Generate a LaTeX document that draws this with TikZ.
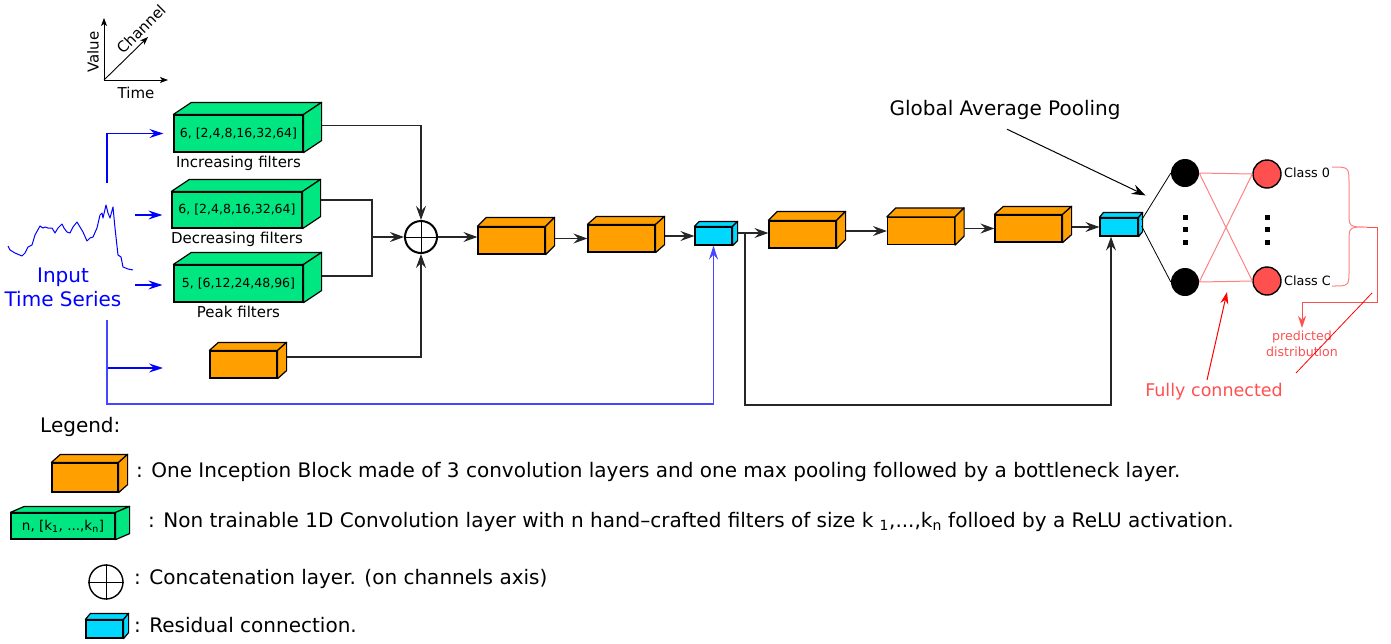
\documentclass[tikz,border=0pt]{standalone}
\usepackage{fontspec}
\setmainfont{DejaVu Sans}
\usetikzlibrary{arrows.meta,positioning}
\definecolor{filtgreen}{RGB}{0,230,128}
\definecolor{incorange}{RGB}{255,160,0}
\definecolor{rescyan}{RGB}{0,216,255}
\definecolor{classred}{RGB}{255,80,80}
\definecolor{fcpink}{RGB}{255,130,130}
\definecolor{resblue}{RGB}{70,70,255}
\begin{document}
\begin{tikzpicture}[x=1pt,y=-1pt,
  face/.style={draw=black, line width=1.2pt, inner sep=0pt},
  filtbox/.style={face, fill=filtgreen, minimum width=129pt, minimum height=37pt, font=\fontsize{12.5}{14}\selectfont},
  incbox/.style={face, fill=incorange, minimum width=67pt, minimum height=27pt},
  resbox/.style={face, fill=rescyan, minimum width=37pt, minimum height=18pt},
  txtL/.style={font=\fontsize{20}{24}\selectfont},
  txtM/.style={font=\fontsize{15}{18}\selectfont},
  txtS/.style={font=\fontsize{12.8}{15}\selectfont},
  conn/.style={draw=black!85, line width=1.1pt},
  arr/.style={-{Stealth[length=14pt, width=10pt, inset=5pt]}},
  barr/.style={draw=blue, line width=1.1pt, -{Stealth[length=14pt, width=9pt, inset=5pt]}},
  axis/.style={line width=0.9pt, -{Stealth[length=8pt, width=6pt, inset=2pt]}},
  neuron/.style={circle, fill=black, minimum size=28pt, inner sep=0pt},
  outneuron/.style={circle, draw=black, line width=1.4pt, fill=classred, minimum size=28pt, inner sep=0pt},
  catnode/.style={circle, draw=black, line width=2pt, minimum size=32pt, inner sep=0pt}]
\useasboundingbox (0,0) rectangle (1391,643);

% axes
\coordinate (ax) at (104,80);
\draw[axis] (ax) -- (104,18);
\draw[axis] (ax) -- (168,80);
\draw[axis] (ax) -- (148,37);
\node[txtM, rotate=90, inner sep=0pt] (val) at (93,52) {Value};
\node[txtM, inner sep=0pt] (tim) at (136,93) {Time};
\node[txtM, rotate=45, inner sep=0pt] (chan) at (141,29) {Channel};

% input series
\draw[blue, line width=1pt, line join=round] plot coordinates {(8,246) (10,250) (15,253) (22,256) (25,253) (28,247) (32,245) (35,235) (40,226) (43,228) (45,227) (48,228) (52,228) (55,233) (58,228) (62,224) (64,228) (67,232) (70,233) (73,227) (77,222) (80,227) (83,232) (87,241) (90,238) (93,237) (97,228) (100,215) (102,213) (103,218) (106,205) (108,213) (110,218) (113,207) (115,228) (118,255) (121,257) (123,267) (128,269) (133,270)};
\node[txtL, text=blue, align=center] (input) at (63,287) {Input\\Time Series};

% filter blocks
\node[filtbox] (g1) at (238.5,133.5) {6, [2,4,8,16,32,64]};
\node[filtbox, minimum width=130pt, minimum height=36pt] (g2) at (237,210) {6, [2,4,8,16,32,64]};
\node[filtbox] (g3) at (238.5,283.5) {5, [6,12,24,48,96]};
\node[txtM, below=0pt of g1, inner sep=3pt] (lg1) {Increasing filters};
\node[txtM, below=0pt of g2, inner sep=3pt] (lg2) {Decreasing filters};
\node[txtM, below=0pt of g3, inner sep=3pt] (lg3) {Peak filters};

% inception and residual blocks
\node[incbox] (o0) at (243.5,364.5) {};
\node[incbox] (oA) at (511.5,240.5) {};
\node[incbox] (oB) at (621.5,238.5) {};
\node[resbox] (cy1) at (713.5,236) {};
\node[incbox] (oC) at (802.5,234.5) {};
\node[incbox] (oD) at (921,231) {};
\node[incbox] (oE) at (1028.5,228.5) {};
\node[resbox, minimum width=38pt] (cy2) at (1119,227) {};

% legend blocks
\node[incbox, minimum width=66pt, minimum height=29pt] (lo) at (85,477.5) {};
\node[face, fill=filtgreen, minimum width=104pt, minimum height=26pt, font=\fontsize{13.5}{15}\selectfont] (lg) at (63,526) {n, [k\textsubscript{1}, ...,k\textsubscript{n}]};
\node[resbox] (lc) at (104.5,629) {};

% top and side faces
\foreach \n/\dx/\dy/\c in {g1/18/12/filtgreen, g2/18/12/filtgreen, g3/18/12/filtgreen, o0/9/8/incorange, oA/9/9/incorange, oB/9/8/incorange, oC/9/9/incorange, oD/9/9/incorange, oE/9/8/incorange, cy1/5/5/rescyan, cy2/4/5/rescyan, lo/9/8/incorange, lg/14/6/filtgreen, lc/5/6/rescyan}{
  \filldraw[fill=\c, line width=1.2pt, line join=round] (\n.north west) -- ++(\dx,-\dy) -- ([shift={(\dx,-\dy)}]\n.north east) -- (\n.north east) -- cycle;
  \filldraw[fill=\c, line width=1.2pt, line join=round] (\n.north east) -- ([shift={(\dx,-\dy)}]\n.north east) -- ([shift={(\dx,-\dy)}]\n.south east) -- (\n.south east) -- cycle;
}

% concatenation
\node[catnode] (cat) at (421,237) {};
\draw[line width=0.8pt] (cat.north) -- (cat.south) (cat.west) -- (cat.east);

% input arrows
\coordinate (ts) at (107,183);
\coordinate (tb) at (107,320);
\coordinate (a2) at (135,215);
\coordinate (a3) at (135,285);
\coordinate (a4) at (163,368);
\coordinate (r1) at (107,404);
\draw[barr, shorten >=10pt] (ts) |- (g1.west);
\draw[barr, shorten >=9pt] (a2) -- (a2 -| g2.west);
\draw[barr, shorten >=11pt] (a3) -- (a3 -| g3.west);
\draw[barr] (tb) |- (a4);
\draw[barr, draw=resblue] (tb) -- (r1) -| (cy1.south);

% main path
\coordinate (br) at (372,237);
\draw[conn, arr] ([shift={(18,-8)}]g1.east) -| (cat.north);
\draw[conn] ([shift={(18,-10)}]g2.east) -| (br) |- ([shift={(18,-7.5)}]g3.east);
\draw[conn, arr] (br) -- (cat.west);
\draw[conn, arr] ([shift={(9,-7.5)}]o0.east) -| (cat.south);
\draw[conn, arr] (cat.east) -- (cat.east -| oA.west);
\draw[conn, arr] ([xshift=9pt]oA.east |- oB.west) -- (oB.west);
\draw[conn, arr] ([xshift=9pt]oB.east |- cy1.west) -- (cy1.west);
\coordinate (sp1) at (745,233);
\draw[conn] ([xshift=5pt]cy1.east |- sp1) -- (sp1);
\draw[conn, arr] (sp1) -- (sp1 -| oC.west);
\draw[conn, arr] ([xshift=9pt]oC.east |- oD.west) -- (oD.west);
\draw[conn, arr] ([xshift=9pt]oD.east |- oE.west) -- (oE.west);
\draw[conn, arr] ([xshift=9pt]oE.east |- cy2.west) -- (cy2.west);
\coordinate (r2) at (1111,405);
\draw[conn, arr] (sp1) |- (r2) -- (r2 |- cy2.south);

% global average pooling
\node[txtL] (gap) at (1005,110) {Global Average Pooling};
\coordinate (gapend) at ([shift={(7,-22)}]cy2.north east);
\draw[line width=1pt, arr] ([shift={(2,6)}]gap.south) -- (gapend);

% dense layer
\node[neuron] (n1) at (1185,173) {};
\node[neuron] (n2) at (1185,282) {};
\node[outneuron] (c0) at (1267,174) {};
\node[outneuron] (cC) at (1267,281) {};
\foreach \y in {217,229,242}{
  \fill (1182.5,\y-2.5) rectangle ++(5,5);
  \fill (1264.5,\y-2.5) rectangle ++(5,5);
}
\draw[line width=0.8pt] ([shift={(3,-7)}]cy2.east) -- (n1.west);
\draw[line width=0.8pt] ([shift={(3,-1)}]cy2.east) -- (n2.west);
\draw[fcpink, line width=1pt] (n1.east) -- (c0.west) (n2.east) -- (cC.west) (n1.east) -- (cC.west) (n2.east) -- (c0.west);
\node[txtS, anchor=west, inner sep=1pt] (l0) at (1283,173) {Class 0};
\node[txtS, anchor=west, inner sep=1pt] (lC) at (1283,281) {Class C};

% output brace
\coordinate (tip) at (1367,227);
\draw[fcpink, line width=1pt] (1332,167) .. controls (1349,167) .. (1349,185) -- (1349,212) .. controls (1349,227) .. (tip) .. controls (1349,227) .. (1349,242) -- (1349,270) .. controls (1349,286) .. (1332,286);
\node[font=\fontsize{12.6}{16}\selectfont, text=classred, align=center, inner sep=3pt] (pred) at (1302,344) {predicted\\distribution};
\draw[classred, line width=1pt, -{Stealth[length=12pt, width=8pt, inset=4pt]}] (tip) -| (1377,302) -| (pred.north);
\coordinate (slash1) at (1372,293);
\coordinate (slash2) at (1296,373);
\draw[red, line width=0.8pt] (slash1) -- (slash2);
\node[font=\fontsize{17.5}{20}\selectfont, text=classred] (fc) at (1214,392) {Fully connected};
\coordinate (fcend) at (1227,292);
\draw[red, line width=1pt, -{Stealth[length=12pt, width=8pt, inset=4pt]}] ([xshift=-7pt]fc.north) -- (fcend);

% legend
\node[txtL, anchor=west, inner sep=0pt] (leg) at (40,427) {Legend:};
\node[txtL, anchor=west, inner sep=0pt] (t1) at (136,472) {: One Inception Block made of 3 convolution layers and one max pooling followed by a bottleneck layer.};
\node[txtL, anchor=west, inner sep=0pt] (t2) at (148,522) {: Non trainable 1D Convolution layer with n hand--crafted filters of size k \textsubscript{1},...,k\textsubscript{n} folloed by a ReLU activation.};
\node[catnode, line width=1.4pt, minimum size=34pt] (lcat) at (106,582) {};
\draw[line width=0.8pt] (lcat.north) -- (lcat.south) (lcat.west) -- (lcat.east);
\node[txtL, anchor=west, inner sep=0pt] (t3) at (134,579) {: Concatenation layer. (on channels axis)};
\node[txtL, anchor=west, inner sep=0pt] (t4) at (134,625) {: Residual connection.};
\end{tikzpicture}
\end{document}
